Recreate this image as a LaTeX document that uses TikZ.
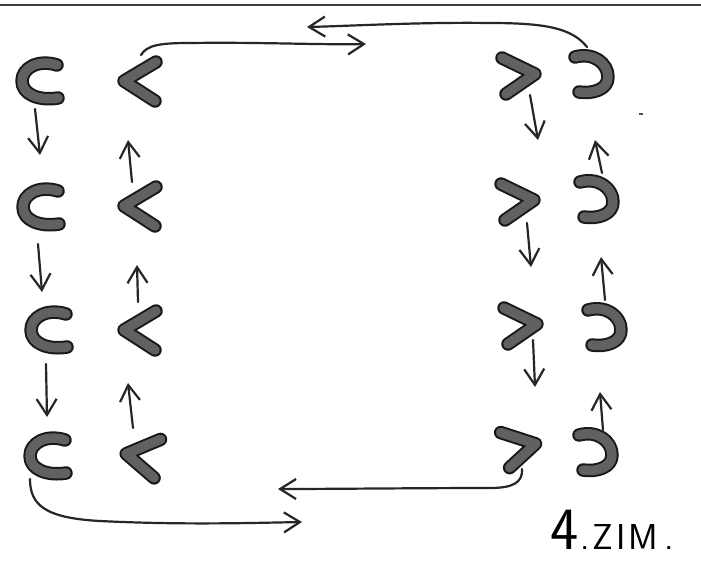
\documentclass[tikz,border=0pt]{standalone}
\usetikzlibrary{arrows.meta}
\begin{document}
\begin{tikzpicture}[x=1pt,y=-1pt,
  glyph/.style={line width=13.5pt, line cap=round, line join=round, draw=black!90,
    postaction={draw=black!62, line width=9.5pt}},
  hand/.style={line width=2.2pt, line cap=round, draw=black!85},
  arr/.style={hand, -{Straight Barb[length=16pt,width=20pt,line width=2.2pt]}},
  symnode/.style={inner sep=0pt, minimum width=46pt, minimum height=46pt},
  pics/cupl/.style={code={\draw[glyph] (17,-17) .. controls (-2,-23) and (-18,-14) .. (-18,-1) .. controls (-18,13) and (0,19) .. (18,16);}},
  pics/cupr/.style={code={\draw[glyph] (-15,-18) .. controls (3,-23) and (18,-12) .. (18,2) .. controls (18,15) and (2,19) .. (-11,17);}},
  pics/less/.style={code={\draw[glyph] (16,-19) -- (-16,0) -- (15,20);}},
  pics/more/.style={code={\draw[glyph] (-17,-18) -- (16,-2) -- (-13,18);}}
]
\useasboundingbox (0,0) rectangle (701,563);
\fill[white] (0,0) rectangle (701,563);
\draw[line width=2.6pt, black!75] (0,5) -- (701,5);
\fill[black!70] (639,113) rectangle (643,115);

% symbol nodes
\node[symnode] (C1) at (40,82) {};  \pic at (C1) {cupl};
\node[symnode] (C2) at (41,208) {}; \pic at (C2) {cupl};
\node[symnode] (C3) at (49,331) {}; \pic at (C3) {cupl};
\node[symnode] (C4) at (48,457) {}; \pic at (C4) {cupl};
\node[symnode] (L1) at (140,81) {};  \pic at (L1) {less};
\node[symnode] (L2) at (140,206) {}; \pic at (L2) {less};
\node[symnode] (L3) at (140,330) {}; \pic at (L3) {less};
\node[symnode] (L4) at (142,456) {}; \pic[rotate=-8] at (L4) {less};
\node[symnode] (G1) at (519,76) {};  \pic at (G1) {more};
\node[symnode] (G2) at (518,202) {}; \pic at (G2) {more};
\node[symnode] (G3) at (521,326) {}; \pic at (G3) {more};
\node[symnode] (G4) at (520,448) {}; \pic[rotate=8] at (G4) {more};
\node[symnode] (D1) at (590,75) {};  \pic at (D1) {cupr};
\node[symnode] (D2) at (595,200) {}; \pic at (D2) {cupr};
\node[symnode] (D3) at (603,328) {}; \pic at (D3) {cupr};
\node[symnode] (D4) at (594,453) {}; \pic at (D4) {cupr};

% vertical arrows
\draw[arr] ([shift={(-5,27)}]C1.center) -- ([shift={(-1,-53)}]C2.center);
\draw[arr] ([shift={(-3,36)}]C2.center) -- ([shift={(-7,-39)}]C3.center);
\draw[arr] ([shift={(-3,33)}]C3.center) -- ([shift={(-1,-40)}]C4.center);
\draw[arr] ([shift={(-8,-24)}]L2.center) -- ([shift={(-12,59)}]L1.center);
\draw[arr] ([shift={(-2,-28)}]L3.center) -- ([shift={(-3,59)}]L2.center);
\draw[arr] ([shift={(-9,-28)}]L4.center) -- ([shift={(-12,53)}]L3.center);
\draw[arr] ([shift={(11,19)}]G1.center) -- ([shift={(20,-62)}]G2.center);
\draw[arr] ([shift={(9,21)}]G2.center) -- ([shift={(10,-59)}]G3.center);
\draw[arr] ([shift={(12,14)}]G3.center) -- ([shift={(15,-61)}]G4.center);
\draw[arr] ([shift={(7,-27)}]D2.center) -- ([shift={(5,65)}]D1.center);
\draw[arr] ([shift={(2,-28)}]D3.center) -- ([shift={(6,57)}]D2.center);
\draw[arr] ([shift={(9,-23)}]D4.center) -- ([shift={(-3,64)}]D3.center);

% free ends of the long connectors
\coordinate (t1) at (366,44);
\coordinate (t2) at (307,27);
\coordinate (b1) at (302,522);
\coordinate (b2) at (278,489);

\draw[arr] ([shift={(1,-26)}]L1.center) .. controls (147,45) and (160,43) .. (190,43)
   .. controls (260,42) and (320,45) .. (t1);
\draw[arr] ([shift={(-3,-28)}]D1.center) .. controls (572,28) and (545,23) .. (490,23)
   .. controls (420,22) and (350,26) .. (t2);
\draw[arr] ([shift={(-18,22)}]C4.center) .. controls (30,505) and (45,518) .. (100,521)
   .. controls (180,525) and (250,523) .. (b1);
\draw[arr] ([shift={(2,21)}]G4.center) .. controls (523,483) and (512,488) .. (490,488)
   .. controls (420,488) and (330,489) .. (b2);

\node[anchor=base west, inner sep=0pt] (sig) at (550,549)
  {\sffamily{\fontsize{60}{60}\selectfont 4}{\fontsize{36}{36}\selectfont\kern2pt.\kern3pt Z\kern3pt I\kern3pt M\kern6pt.}};
\end{tikzpicture}
\end{document}
